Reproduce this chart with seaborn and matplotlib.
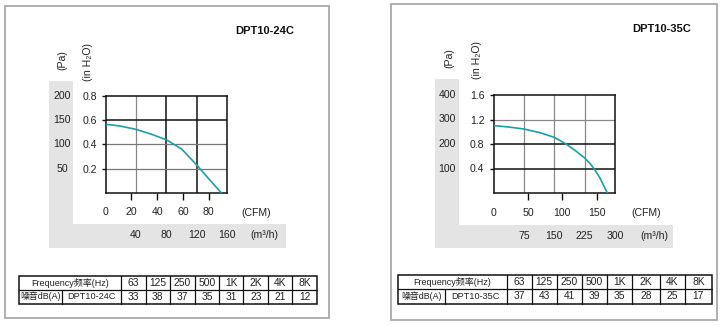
import matplotlib
matplotlib.use("Agg")
import matplotlib.pyplot as plt
import matplotlib.transforms as mtransforms
from matplotlib.patches import Rectangle
from matplotlib.lines import Line2D
import pandas as pd
import seaborn as sns

# ---------------- data ----------------
models = ["DPT10-24C", "DPT10-35C"]

cfm_24c = [0, 11, 23.5, 35.7, 47.4, 59, 70.7, 79.7, 89.6]
inh2o_24c = [0.566, 0.552, 0.524, 0.483, 0.436, 0.361, 0.229, 0.119, 0.0]
cfm_35c = [0, 20, 44, 67.5, 88, 104, 118, 132, 140, 147.5, 155, 161, 165.5]
inh2o_35c = [1.10, 1.08, 1.045, 0.985, 0.91, 0.81, 0.70, 0.577, 0.485, 0.375,
             0.24, 0.10, 0.0]

cfm_ticks_24c = [0, 20, 40, 60, 80]
cfm_ticks_35c = [0, 50, 100, 150]
inh2o_ticks_24c = [0.2, 0.4, 0.6, 0.8]
inh2o_ticks_35c = [0.4, 0.8, 1.2, 1.6]
pa_ticks_24c = [50, 100, 150, 200]
pa_ticks_35c = [100, 200, 300, 400]
m3h_ticks_24c = [40, 80, 120, 160]
m3h_ticks_35c = [75, 150, 225, 300]

freq_labels = ["63", "125", "250", "500", "1K", "2K", "4K", "8K"]
noise_24c = [33, 38, 37, 35, 31, 23, 21, 12]
noise_35c = [37, 43, 41, 39, 35, 28, 25, 17]

CFM_TO_M3H = 1.699
INH2O_TO_PA = 250.0

# ---------------- style ----------------
sns.set_theme(style="white")
FAM = ["Liberation Sans", "Noto Sans CJK SC", "DejaVu Sans"]
plt.rcParams["font.family"] = FAM
TEAL = "#1c9fa6"
STRIP = "#e4e4e4"
TXT = "#222222"
FS = 7.6
W, H = 720, 326

fig = plt.figure(figsize=(W / 100, H / 100), dpi=100)
fig.patch.set_facecolor("white")


def fx(x):
    return x / W


def fy(y):
    return 1 - y / H


def frect(x0, y0, x1, y1, **kw):
    fig.add_artist(Rectangle((fx(x0), fy(y1)), (x1 - x0) / W, (y1 - y0) / H,
                             transform=fig.transFigure, **kw))


def ftext(x, y, s, **kw):
    fig.text(fx(x), fy(y), s, **kw)


panels = [
    dict(model=models[0], cfm=cfm_24c, inh2o=inh2o_24c,
         cfm_ticks=cfm_ticks_24c, in_ticks=inh2o_ticks_24c,
         pa_ticks=pa_ticks_24c, m3h_ticks=m3h_ticks_24c, noise=noise_24c,
         border=(5, 6, 329, 318), title=(265, 31),
         pa_lab=(62, 60), in_lab=(88, 62),
         vstrip=(49, 81, 73, 248), hstrip=(49, 224, 286, 248),
         ax=(105.7, 96, 227, 192.7), pa_x=62, m3h_y=235,
         cfm_unit=(256, 213), m3h_unit=(264, 235),
         hcol=["#777777", "#777777", "#111111"],
         vcol=["#888888", "#111111", "#111111"],
         tcols=[19, 120.7, 145.7, 170, 195, 219.3, 243.3, 268.3, 292.3, 317],
         tsplit=62.3, trows=[276, 289.5, 303.5]),
    dict(model=models[1], cfm=cfm_35c, inh2o=inh2o_35c,
         cfm_ticks=cfm_ticks_35c, in_ticks=inh2o_ticks_35c,
         pa_ticks=pa_ticks_35c, m3h_ticks=m3h_ticks_35c, noise=noise_35c,
         border=(391, 4, 717, 320), title=(662, 29),
         pa_lab=(449, 58), in_lab=(477, 60),
         vstrip=(435, 79, 459, 248), hstrip=(435, 225, 673, 248),
         ax=(493.5, 95, 615, 193), pa_x=447, m3h_y=236,
         cfm_unit=(646, 213), m3h_unit=(654, 236),
         hcol=["#111111", "#111111", "#888888"],
         vcol=["#888888", "#888888", "#888888"],
         tcols=[398.3, 506.7, 531.7, 556.7, 581.7, 606.7, 631.7, 660, 685, 711.7],
         tsplit=445, trows=[275, 289, 303.5]),
]

for p in panels:
    # border and grey L-shaped band
    b = p["border"]
    frect(*b, fill=False, edgecolor="#a9a9a9", lw=1.3, zorder=0)
    frect(*p["vstrip"], facecolor=STRIP, edgecolor="none", zorder=0)
    frect(*p["hstrip"], facecolor=STRIP, edgecolor="none", zorder=0)

    ftext(*p["title"], p["model"], ha="center", va="center", fontsize=8,
          fontweight="bold", color="#111111")
    ftext(*p["pa_lab"], "(Pa)", ha="center", va="center", rotation=90,
          fontsize=FS, color=TXT)
    ftext(*p["in_lab"], "(in H\u2082O)", ha="center", va="center", rotation=90,
          fontsize=FS, color=TXT)
    ftext(*p["cfm_unit"], "(CFM)", ha="center", va="center", fontsize=FS,
          color=TXT)
    ftext(*p["m3h_unit"], "(m\u00b3/h)", ha="center", va="center", fontsize=FS,
          color=TXT)

    x0, y0, x1, y1 = p["ax"]
    ax = fig.add_axes([fx(x0), fy(y1), (x1 - x0) / W, (y1 - y0) / H])
    ax.set_facecolor("white")
    df = pd.DataFrame({"CFM": p["cfm"], "inH2O": p["inh2o"]})
    sns.lineplot(data=df, x="CFM", y="inH2O", ax=ax, color=TEAL, lw=1.2,
                 zorder=5)
    ax.set_xlim(0, p["m3h_ticks"][-1] / CFM_TO_M3H)
    ax.set_ylim(0, p["pa_ticks"][-1] / INH2O_TO_PA)

    # grid lines at round m3/h and Pa values
    for v, c in zip(p["m3h_ticks"][:-1], p["vcol"]):
        ax.axvline(v / CFM_TO_M3H, color=c, lw=1.1 if c == "#111111" else 0.9,
                   zorder=2)
    for v, c in zip(p["pa_ticks"][:-1], p["hcol"]):
        ax.axhline(v / INH2O_TO_PA, color=c, lw=1.1 if c == "#111111" else 0.9,
                   zorder=2)

    for s in ax.spines.values():
        s.set_visible(True)
        s.set_color("#111111")
        s.set_linewidth(1.1)

    ax.set_xticks(p["cfm_ticks"])
    ax.set_xticklabels([str(t) for t in p["cfm_ticks"]])
    ax.set_yticks(p["in_ticks"])
    ax.set_yticklabels([f"{t:.1f}" for t in p["in_ticks"]])
    ax.tick_params(axis="x", bottom=True, length=5, width=1, color="#111111",
                   pad=5.5, labelsize=FS, labelcolor=TXT)
    ax.tick_params(axis="y", left=True, length=3, width=1, color="#111111",
                   pad=3.5, labelsize=FS, labelcolor=TXT)
    ax.xaxis.get_major_ticks()[0].tick1line.set_visible(False)
    ax.set_xlabel("")
    ax.set_ylabel("")

    # Pa labels (left band) and m3/h labels (bottom band) placed by the scales
    tr_y = mtransforms.blended_transform_factory(fig.transFigure, ax.transData)
    for v in p["pa_ticks"]:
        ax.text(fx(p["pa_x"]), v / INH2O_TO_PA, str(v), transform=tr_y,
                ha="center", va="center", fontsize=FS, color=TXT,
                clip_on=False)
    tr_x = mtransforms.blended_transform_factory(ax.transData, fig.transFigure)
    for v in p["m3h_ticks"]:
        ax.text(v / CFM_TO_M3H, fy(p["m3h_y"]), str(v), transform=tr_x,
                ha="center", va="center", fontsize=FS, color=TXT,
                clip_on=False)

    # noise table
    cols = p["tcols"]
    r0, r1, r2 = p["trows"]
    frect(cols[0], r0, cols[-1], r2, fill=False, edgecolor="#111111", lw=1.1)
    fig.add_artist(Line2D([fx(cols[0]), fx(cols[-1])], [fy(r1), fy(r1)],
                          transform=fig.transFigure, color="#111111", lw=0.9))
    for c in cols[1:-1]:
        fig.add_artist(Line2D([fx(c), fx(c)], [fy(r0), fy(r2)],
                              transform=fig.transFigure, color="#111111",
                              lw=0.9))
    fig.add_artist(Line2D([fx(p["tsplit"]), fx(p["tsplit"])], [fy(r1), fy(r2)],
                          transform=fig.transFigure, color="#111111", lw=0.9))
    ym0, ym1 = (r0 + r1) / 2, (r1 + r2) / 2
    ftext((cols[0] + cols[1]) / 2, ym0, "Frequency频率(Hz)", ha="center",
          va="center", fontsize=6.5, color=TXT)
    ftext((cols[0] + p["tsplit"]) / 2, ym1, "噪音dB(A)", ha="center",
          va="center", fontsize=6.4, color=TXT)
    ftext((p["tsplit"] + cols[1]) / 2, ym1, p["model"], ha="center",
          va="center", fontsize=6.6, color=TXT)
    for i, (f, n) in enumerate(zip(freq_labels, p["noise"])):
        cx = (cols[i + 1] + cols[i + 2]) / 2
        ftext(cx, ym0, f, ha="center", va="center", fontsize=7.4, color=TXT)
        ftext(cx, ym1, str(n), ha="center", va="center", fontsize=7.4,
              color=TXT)

fig.savefig("out.png", dpi=100, facecolor="white")
